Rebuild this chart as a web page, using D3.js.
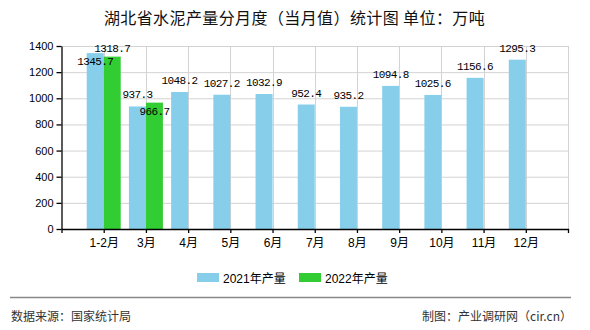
<!DOCTYPE html>
<html><head><meta charset="utf-8">
<script src="https://cdn.jsdelivr.net/npm/d3@7"></script>
<style>
html,body{margin:0;padding:0;background:#fff;}
svg{display:block;}
</style></head>
<body>
<svg id="c" width="590" height="330"></svg>
<script>
const months = ["1-2月","3月","4月","5月","6月","7月","8月","9月","10月","11月","12月"];
const values2021 = [1345.7, 937.3, 1048.2, 1027.2, 1032.9, 952.4, 935.2, 1094.8, 1025.6, 1156.6, 1295.3];
const values2022 = [1318.7, 966.7, null, null, null, null, null, null, null, null, null];
const seriesNames = ["2021年产量", "2022年产量"];
const yTicks = [0, 200, 400, 600, 800, 1000, 1200, 1400];
const title = "湖北省水泥产量分月度（当月值）统计图 单位：万吨";
const sourceText = "数据来源：国家统计局";
const makerText = "制图：产业调研网（cir.cn）";

const colors = ["#87CEEB", "#32CD32"];
const svg = d3.select("#c");
const L = 61.5, R = 568, T = 46, B = 229;
const cjk = "'Liberation Sans','Noto Sans CJK SC',sans-serif";

const x = d3.scalePoint().domain(months).range([L, R]).padding(1);
const y = d3.scaleLinear().domain([0, 1400]).range([B, T]);
const bw = 17;

// grid
const g = svg.append("g");
g.selectAll("line.h").data(yTicks.filter(d => d > 0)).enter().append("line")
  .attr("x1", L).attr("x2", R).attr("y1", d => y(d) + 0.5).attr("y2", d => y(d) + 0.5)
  .attr("stroke", "#d3d3d3").attr("stroke-width", 1);
const vx = months.map(m => x(m)).concat([R]);
g.selectAll("line.v").data(vx).enter().append("line")
  .attr("x1", d => Math.round(d) + 0.5).attr("x2", d => Math.round(d) + 0.5).attr("y1", T).attr("y2", B)
  .attr("stroke", "#d3d3d3").attr("stroke-width", 1);

// bars
const series = [values2021, values2022];
series.forEach((vals, s) => {
  svg.append("g").selectAll("rect").data(months.map((m, i) => ({m, v: vals[i]})).filter(d => d.v != null))
    .enter().append("rect")
    .attr("x", d => s === 0 ? x(d.m) - bw : x(d.m))
    .attr("width", bw)
    .attr("y", d => y(d.v)).attr("height", d => B - y(d.v))
    .attr("fill", colors[s]);
});

// axes
const ax = svg.append("g").attr("transform", `translate(0,${B})`)
  .call(d3.axisBottom(x).tickSize(4).tickSizeOuter(4).tickPadding(5));
ax.selectAll("text").style("font-family", cjk).style("font-size", "12px").attr("fill", "#000");
ax.selectAll("line,path").attr("stroke", "#000").attr("stroke-width", 1.3);

const ay = svg.append("g").attr("transform", `translate(${L},0)`)
  .call(d3.axisLeft(y).tickValues(yTicks).tickFormat(d3.format("d")).tickSize(5).tickSizeOuter(0).tickPadding(3));
ay.selectAll("text").style("font-family", cjk).style("font-size", "11px").attr("fill", "#000");
ay.selectAll("line,path").attr("stroke", "#000").attr("stroke-width", 1.3);

// value labels
const labels = [];
months.forEach((m, i) => {
  const a = values2021[i], b = values2022[i];
  const paired = a != null && b != null;
  [a, b].forEach((v, s) => {
    if (v == null) return;
    const other = s === 0 ? b : a;
    const cx = s === 0 ? x(m) - bw / 2 : x(m) + bw / 2;
    let ty;
    if (paired && v > other) ty = y(v) + 12;
    else ty = Math.max(y(v) - 8, T + 6);
    labels.push({cx, ty, t: v.toFixed(1)});
  });
});
svg.append("g").selectAll("text").data(labels).enter().append("text")
  .attr("x", d => d.cx).attr("y", d => d.ty).attr("text-anchor", "middle")
  .style("font-family", "'Liberation Mono',monospace").style("font-size", "11px")
  .style("letter-spacing", "-0.6px").attr("fill", "#000").text(d => d.t);

// title
svg.append("text").attr("x", 294.5).attr("y", 24).attr("text-anchor", "middle")
  .style("font-family", "'Noto Sans CJK SC',sans-serif").style("font-size", "16px")
  .style("letter-spacing", "0.4px").attr("fill", "#111").text(title);

// legend
const lg = svg.append("g");
const lx = [197, 299];
seriesNames.forEach((n, i) => {
  lg.append("rect").attr("x", lx[i]).attr("y", 273).attr("width", 22).attr("height", 9).attr("fill", colors[i]);
  lg.append("text").attr("x", lx[i] + 26).attr("y", 282.5)
    .style("font-family", cjk).style("font-size", "12px").attr("fill", "#000").text(n);
});

// footer
svg.append("line").attr("x1", 10).attr("x2", 571).attr("y1", 297.5).attr("y2", 297.5)
  .attr("stroke", "#888").attr("stroke-width", 1.5);
svg.append("text").attr("x", 11).attr("y", 320.5)
  .style("font-family", "'Noto Sans CJK SC',sans-serif").style("font-size", "12px").attr("fill", "#333").text(sourceText);
svg.append("text").attr("x", 572).attr("y", 320.5).attr("text-anchor", "end")
  .style("font-family", "'Noto Sans CJK SC',sans-serif").style("font-size", "12px").attr("fill", "#333").text(makerText);
</script>
</body></html>
